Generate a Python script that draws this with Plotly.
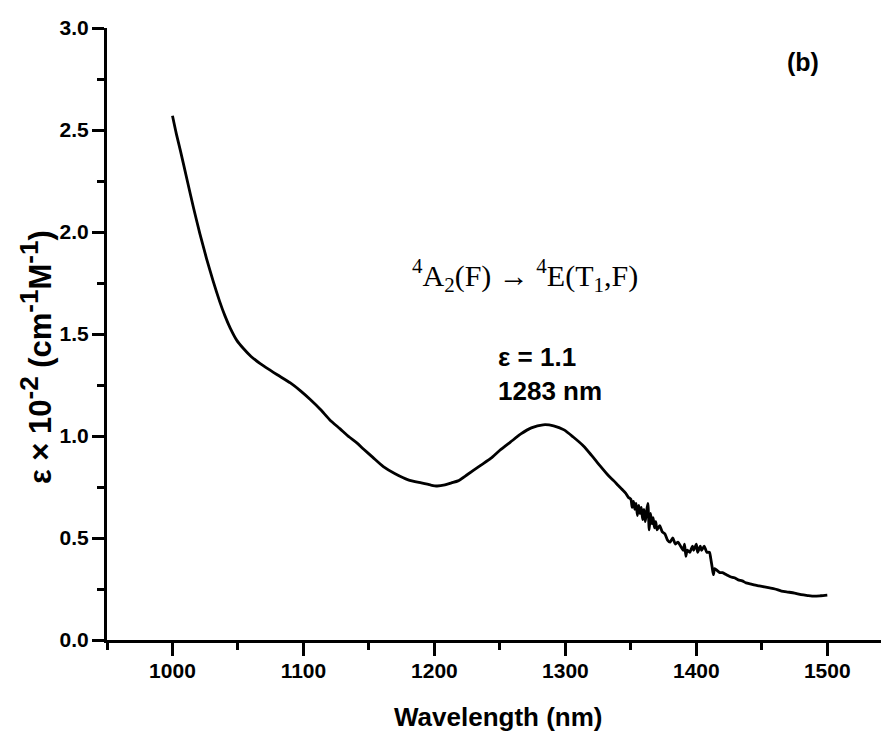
import plotly.graph_objects as go

# Wavelength (nm) and epsilon x 10^-2 values
wavelength = [
    1000, 1003, 1006, 1011, 1016, 1021, 1026, 1031, 1036, 1040, 1044, 1049, 1054,
    1060, 1067, 1074, 1080, 1090, 1098, 1105, 1113, 1120, 1128, 1135, 1141, 1146,
    1153, 1161, 1170, 1180, 1190, 1197, 1202, 1208, 1213, 1218, 1225, 1235, 1243,
    1250, 1258, 1266, 1274, 1283, 1291, 1299, 1306, 1314, 1320, 1327, 1333, 1337,
    1340, 1343, 1346, 1348, 1350, 1351, 1352, 1353, 1354, 1355, 1356, 1357, 1358,
    1359, 1360, 1361, 1362, 1363, 1364, 1365, 1366, 1367, 1368, 1369, 1370, 1372,
    1374, 1376, 1378, 1380, 1382, 1384, 1386, 1388, 1390, 1391, 1392, 1393, 1395,
    1397, 1398, 1400, 1401, 1403, 1404, 1406, 1408, 1410, 1411, 1412, 1413, 1414,
    1416, 1418, 1420, 1423, 1426, 1429, 1432, 1435, 1438, 1441, 1444, 1448, 1452,
    1456, 1460, 1465, 1470, 1475, 1480, 1485, 1490, 1495, 1500,
]
epsilon = [
    2.57, 2.48, 2.40, 2.26, 2.12, 1.99, 1.87, 1.76, 1.66, 1.59, 1.53, 1.47, 1.43,
    1.39, 1.355, 1.325, 1.30, 1.26, 1.22, 1.18, 1.13, 1.08, 1.035, 0.995, 0.965, 0.935,
    0.895, 0.85, 0.815, 0.785, 0.77, 0.76, 0.755, 0.76, 0.77, 0.78, 0.81, 0.855, 0.89,
    0.93, 0.97, 1.01, 1.04, 1.055, 1.05, 1.03, 0.995, 0.95, 0.905, 0.85, 0.805, 0.78,
    0.76, 0.74, 0.72, 0.70, 0.69, 0.65, 0.68, 0.64, 0.67, 0.61, 0.66, 0.62, 0.65,
    0.59, 0.64, 0.58, 0.63, 0.67, 0.54, 0.62, 0.57, 0.60, 0.55, 0.58, 0.54, 0.56,
    0.53, 0.52, 0.49, 0.48, 0.50, 0.47, 0.48, 0.46, 0.44, 0.47, 0.41, 0.44, 0.43,
    0.46, 0.44, 0.47, 0.43, 0.46, 0.44, 0.46, 0.43, 0.43, 0.40, 0.36, 0.32, 0.35,
    0.34, 0.33, 0.33, 0.32, 0.31, 0.305, 0.295, 0.29, 0.28, 0.275, 0.27, 0.265, 0.26,
    0.255, 0.25, 0.24, 0.235, 0.23, 0.222, 0.218, 0.215, 0.217, 0.22,
]

x_ticks = [1000, 1100, 1200, 1300, 1400, 1500]
x_ticklabels = ["1000", "1100", "1200", "1300", "1400", "1500"]
y_ticks = [0.0, 0.5, 1.0, 1.5, 2.0, 2.5, 3.0]
y_ticklabels = ["0.0", "0.5", "1.0", "1.5", "2.0", "2.5", "3.0"]

SANS = "Liberation Sans, Arial, sans-serif"
SERIF = "Liberation Serif, Times New Roman, serif"

fig = go.Figure()
fig.add_trace(go.Scatter(
    x=wavelength, y=epsilon, mode="lines",
    line=dict(color="black", width=2.8, shape="spline", smoothing=0.6),
    showlegend=False, hoverinfo="skip",
))

fig.update_layout(
    width=881, height=736,
    margin=dict(l=107, r=0, t=28, b=96),
    paper_bgcolor="white", plot_bgcolor="white",
    font=dict(family=SANS, color="black"),
)

fig.update_xaxes(
    range=[950, 1541],
    showgrid=False, zeroline=False,
    showline=True, linecolor="black", linewidth=3,
    tickmode="array", tickvals=x_ticks, ticktext=x_ticklabels,
    ticks="outside", ticklen=13, tickwidth=3, tickcolor="black",
    ticklabelstandoff=-3,
    tickfont=dict(family=SANS, size=21, color="black", weight="bold"),
    minor=dict(ticks="outside", ticklen=7, tickwidth=3, tickcolor="black",
               tick0=950, dtick=100, showgrid=False),
)
fig.update_yaxes(
    range=[0, 3.0],
    showgrid=False, zeroline=False,
    showline=True, linecolor="black", linewidth=3,
    tickmode="array", tickvals=y_ticks, ticktext=y_ticklabels,
    ticks="outside", ticklen=12, tickwidth=3, tickcolor="black",
    ticklabelstandoff=-1,
    tickfont=dict(family=SANS, size=21, color="black", weight="bold"),
    minor=dict(ticks="outside", ticklen=7, tickwidth=3, tickcolor="black",
               tick0=0.25, dtick=0.5, showgrid=False),
)

SUP = "<sup><span style='font-size:26px'>{}</span></sup>"
ytitle = ("<b>ε × 10" + SUP.format("-2") + " (cm" + SUP.format("-1")
          + "M" + SUP.format("-1") + ")</b>")

annotations = [
    dict(text="<b>Wavelength (nm)</b>", xref="paper", yref="paper",
         x=0.505, y=-0.126, xanchor="center", yanchor="middle", showarrow=False,
         font=dict(family=SANS, size=26, color="black")),
    dict(text=ytitle,
         xref="paper", yref="paper", x=-0.092, y=0.462, textangle=-90,
         xanchor="center", yanchor="middle", showarrow=False,
         font=dict(family=SANS, size=31, color="black")),
    dict(text="<sup>4</sup>A<sub>2</sub>(F) → <sup>4</sup>E(T<sub>1</sub>,F)",
         xref="paper", yref="paper", x=0.54, y=0.595,
         xanchor="center", yanchor="middle", showarrow=False,
         font=dict(family=SERIF, size=30, color="black")),
    dict(text="<b>ε = 1.1<br>1283 nm</b>", xref="paper", yref="paper",
         x=0.503, y=0.435, xanchor="left", yanchor="middle", align="left",
         showarrow=False, font=dict(family=SANS, size=26, color="black")),
    dict(text="<b>(b)</b>", xref="paper", yref="paper", x=0.899, y=0.944,
         xanchor="center", yanchor="middle", showarrow=False,
         font=dict(family=SANS, size=25, color="black")),
]
fig.update_layout(annotations=annotations)

fig.write_html("out.html")
